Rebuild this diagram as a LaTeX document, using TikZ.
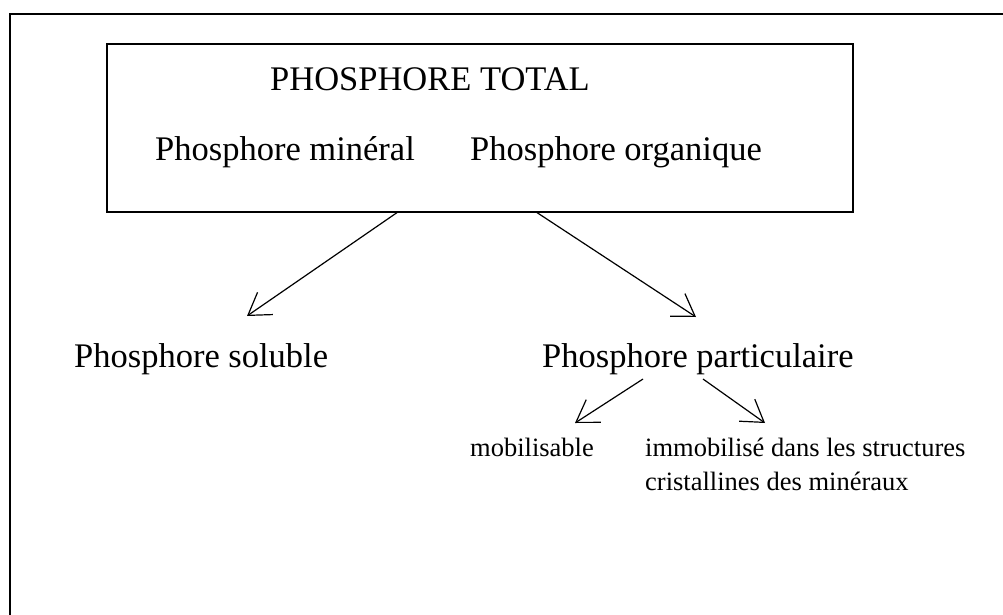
\documentclass[tikz,border=0pt]{standalone}
\usepackage{fontspec}
\setmainfont{Liberation Serif}
\usetikzlibrary{positioning,arrows.meta}

\tikzset{
  big/.style={font=\fontsize{34.5}{40}\selectfont, inner sep=0pt, anchor=base west},
  small/.style={font=\fontsize{26.5}{34}\selectfont, inner sep=0pt, anchor=base west, align=left},
  arr/.style={line width=1.2pt, -{Straight Barb[length=21pt,width=27pt,line width=1.2pt]}}
}

\begin{document}
\begin{tikzpicture}[x=1pt,y=-1pt]
  \useasboundingbox (0,0) rectangle (1003,615);
  % cadre
  \draw[line width=1.4pt] (10,615) -- (10,14) -- (1003,14);

  \node[draw, line width=1.2pt, minimum width=746pt, minimum height=168pt] (total) at (480,128) {}; %
  \node[big] (titre) at (270,91) {PHOSPHORE TOTAL};
  \node[big] (mineral) at (155,160) {Phosphore minéral};
  \node[big] (organique) at (470,160) {Phosphore organique};

  \node[big] (soluble) at (74,367) {Phosphore soluble};
  \node[big] (partic) at (542,367) {Phosphore particulaire};

  \node[small] (mobil) at (470,456) {mobilisable};
  \node[small] (immobil) at (645,490) {immobilisé dans les structures\\cristallines des minéraux};

  \draw[arr] ([xshift=-83pt]total.south) -- ([xshift=173pt,yshift=51pt]soluble.base west);
  \draw[arr] ([xshift=57pt]total.south) -- ([xshift=154pt,yshift=50pt]partic.base west);
  \draw[arr] ([xshift=101pt,yshift=-12pt]partic.base west) -- ([xshift=105pt,yshift=33pt]mobil.base west);
  \draw[arr] ([xshift=161pt,yshift=-12pt]partic.base west) -- ([xshift=120pt,yshift=67pt]immobil.base west);
\end{tikzpicture}
\end{document}
